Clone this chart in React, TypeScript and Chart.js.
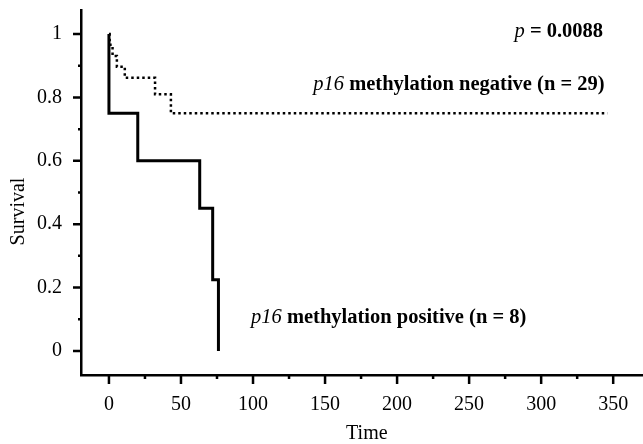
import { useEffect, useRef } from "react";
import { Chart, registerables } from "chart.js";
Chart.register(...registerables);

// Kaplan-Meier step points (time, survival)
const positiveTimes = [0, 0, 20, 63, 72, 76];
const positiveSurvival = [1, 0.75, 0.6, 0.45, 0.225, 0];
const negativeTimes = [0, 0.5, 2.5, 5.5, 11, 32, 43, 346];
const negativeSurvival = [1, 0.966, 0.931, 0.897, 0.862, 0.81, 0.75, 0.75];

const xTicks = [0, 50, 100, 150, 200, 250, 300, 350];
const xMinorTicks = [25, 75, 125, 175, 225, 275, 325];
const yTicks = [0, 0.2, 0.4, 0.6, 0.8, 1];
const yMinorTicks = [0.1, 0.3, 0.5, 0.7, 0.9];

const pValueText = "0.0088";
const negativeLabel = " methylation negative (n = 29)";
const positiveLabel = " methylation positive (n = 8)";
const geneName = "p16";
const xTitle = "Time";
const yTitle = "Survival";

const SERIF = '"Liberation Serif", "Times New Roman", serif';

export default function App() {
  const ref = useRef<HTMLCanvasElement>(null);
  useEffect(() => {
    const canvas = ref.current!;
    const drawRich = (
      ctx: CanvasRenderingContext2D,
      parts: { t: string; f: string }[],
      x: number,
      y: number,
      align: "left" | "right"
    ) => {
      let total = 0;
      for (const p of parts) {
        ctx.font = p.f;
        total += ctx.measureText(p.t).width;
      }
      let cx = align === "right" ? x - total : x;
      ctx.textAlign = "left";
      ctx.textBaseline = "alphabetic";
      for (const p of parts) {
        ctx.font = p.f;
        ctx.fillText(p.t, cx, y);
        cx += ctx.measureText(p.t).width;
      }
    };
    const annot = {
      id: "annot",
      afterDraw(chart: any) {
        const ctx: CanvasRenderingContext2D = chart.ctx;
        const xs = chart.scales.x;
        const ys = chart.scales.y;
        const axisX = chart.chartArea.left;
        const axisY = chart.chartArea.bottom;
        ctx.save();
        ctx.strokeStyle = "#000";
        ctx.lineWidth = 2.5;
        ctx.beginPath();
        for (const v of yTicks) {
          const py = ys.getPixelForValue(v);
          ctx.moveTo(axisX - 8, py);
          ctx.lineTo(axisX, py);
        }
        for (const v of yMinorTicks) {
          const py = ys.getPixelForValue(v);
          ctx.moveTo(axisX - 3, py);
          ctx.lineTo(axisX, py);
        }
        for (const v of xTicks) {
          const px = xs.getPixelForValue(v);
          ctx.moveTo(px, axisY);
          ctx.lineTo(px, axisY + 9);
        }
        for (const v of xMinorTicks) {
          const px = xs.getPixelForValue(v);
          ctx.moveTo(px, axisY);
          ctx.lineTo(px, axisY + 4);
        }
        ctx.stroke();

        ctx.fillStyle = "#000";
        const F = 20.5;
        drawRich(
          ctx,
          [
            { t: "p", f: `italic ${F}px ${SERIF}` },
            { t: " = " + pValueText, f: `bold ${F}px ${SERIF}` },
          ],
          xs.getPixelForValue(343),
          ys.getPixelForValue(0.991),
          "right"
        );
        drawRich(
          ctx,
          [
            { t: geneName, f: `italic ${F}px ${SERIF}` },
            { t: negativeLabel, f: `bold ${F}px ${SERIF}` },
          ],
          xs.getPixelForValue(344),
          ys.getPixelForValue(0.823),
          "right"
        );
        drawRich(
          ctx,
          [
            { t: geneName, f: `italic ${F}px ${SERIF}` },
            { t: positiveLabel, f: `bold ${F}px ${SERIF}` },
          ],
          xs.getPixelForValue(98.6),
          ys.getPixelForValue(0.088),
          "left"
        );

        // axis titles
        ctx.font = `20px ${SERIF}`;
        ctx.textAlign = "center";
        ctx.textBaseline = "middle";
        ctx.fillText(xTitle, xs.getPixelForValue(179), 434);
        ctx.save();
        ctx.translate(19, ys.getPixelForValue(0.44));
        ctx.rotate(-Math.PI / 2);
        ctx.font = `20px ${SERIF}`;
        ctx.fillText(yTitle, 0, 0);
        ctx.restore();
        ctx.restore();
      },
    };

    const chart = new Chart(canvas, {
      type: "line",
      data: {
        datasets: [
          {
            label: "positive",
            data: positiveTimes.map((t, i) => ({ x: t, y: positiveSurvival[i] })),
            borderColor: "#000",
            borderWidth: 3,
            stepped: true,
            pointRadius: 0,
            fill: false,
          },
          {
            label: "negative",
            data: negativeTimes.map((t, i) => ({ x: t, y: negativeSurvival[i] })),
            borderColor: "#000",
            borderWidth: 2.5,
            borderDash: [2.5, 3],
            stepped: true,
            pointRadius: 0,
            fill: false,
          },
        ],
      },
      options: {
        animation: false,
        responsive: false,
        devicePixelRatio: 1,
        layout: { padding: { top: 10, right: 1, left: 0, bottom: 0 } },
        plugins: { legend: { display: false }, tooltip: { enabled: false } },
        scales: {
          x: {
            type: "linear",
            min: -19.4,
            max: 370,
            afterBuildTicks: (s: any) => {
              s.ticks = xTicks.map((v) => ({ value: v }));
            },
            afterFit: (s: any) => {
              s.height = 69;
              s.paddingLeft = 0;
              s.paddingRight = 0;
            },
            grid: { display: false, drawTicks: false },
            border: { display: true, color: "#000", width: 2.5 },
            ticks: {
              color: "#000",
              padding: 18,
              maxRotation: 0,
              font: { family: SERIF, size: 20 },
            },
          },
          y: {
            type: "linear",
            min: -0.076,
            max: 1.076,
            afterBuildTicks: (s: any) => {
              s.ticks = yTicks.map((v) => ({ value: v }));
            },
            afterFit: (s: any) => {
              s.width = 81;
              s.paddingTop = 0;
              s.paddingBottom = 0;
            },
            grid: { display: false, drawTicks: false },
            border: { display: true, color: "#000", width: 2.5 },
            ticks: {
              color: "#000",
              padding: 19,
              font: { family: SERIF, size: 20 },
              callback: (v: any) => String(v),
            },
          },
        },
      },
      plugins: [annot],
    });
    return () => chart.destroy();
  }, []);
  return (
    <div style={{ position: "absolute", left: 0, top: 0, width: 643, height: 444, background: "#fff" }}>
      <canvas ref={ref} width={643} height={444} style={{ display: "block" }} />
    </div>
  );
}
